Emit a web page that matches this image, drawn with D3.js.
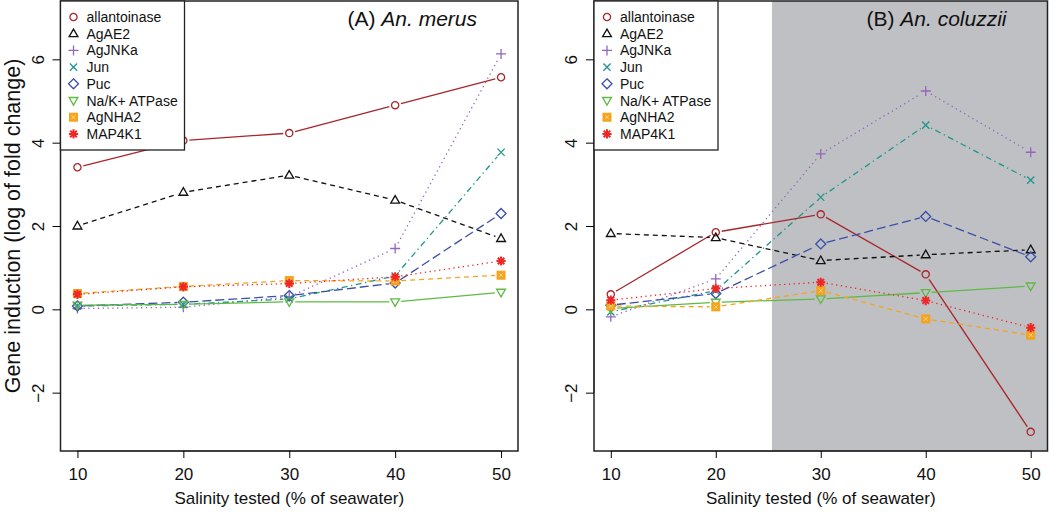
<!DOCTYPE html>
<html>
<head>
<meta charset="utf-8">
<script src="https://cdn.jsdelivr.net/npm/d3@7"></script>
<style>
 body { margin: 0; background: #fff; }
 text { font-family: "Liberation Sans", Arial, sans-serif; fill: #111; }
</style>
</head>
<body>
<svg id="graph"></svg>
<script>
// salinity levels (% of seawater)
const salinity = [10, 20, 30, 40, 50];
const genes = ["allantoinase", "AgAE2", "AgJNKa", "Jun", "Puc", "Na/K+ ATPase", "AgNHA2", "MAP4K1"];
const yTicks = [-2, 0, 2, 4, 6];

// (A) An. merus, one row per gene in the order above
const merus = [
 [3.41, 4.05, 4.23, 4.90, 5.57],
 [2.00, 2.81, 3.22, 2.62, 1.70],
 [0.02, 0.05, 0.30, 1.46, 6.13],
 [0.08, 0.12, 0.25, 0.80, 3.77],
 [0.08, 0.17, 0.33, 0.63, 2.30],
 [0.10, 0.12, 0.18, 0.18, 0.41],
 [0.38, 0.55, 0.69, 0.68, 0.82],
 [0.36, 0.54, 0.62, 0.78, 1.16]
];
// (B) An. coluzzii
const coluzzii = [
 [0.36, 1.85, 2.28, 0.84, -2.94],
 [1.82, 1.72, 1.17, 1.31, 1.43],
 [-0.18, 0.73, 3.73, 5.24, 3.77],
 [-0.06, 0.45, 2.69, 4.42, 3.10],
 [0.10, 0.38, 1.57, 2.23, 1.26],
 [0.02, 0.17, 0.25, 0.40, 0.56],
 [0.08, 0.06, 0.45, -0.23, -0.62],
 [0.22, 0.50, 0.65, 0.21, -0.44]
];
// shaded salinity band in panel B
const shadeFrom = 25.35;

const colors = ["#a8262b", "#111111", "#9464c0", "#1f968c", "#3a4eaa", "#5fba45", "#f5a31c", "#f02626"];
const dashes = [null, "5,4", "1.3,3.5", "1.3,3.5,6,3.5", "9,4", null, "5,4", "1.3,3.5"];
const shapes = ["circle", "triUp", "plus", "cross", "diamond", "triDown", "squarePlus", "asterisk"];

let width = 1050;
let height = 518;
let plotTop = 1, plotBottom = 451;
let fontFamily = "Liberation Sans, Arial, sans-serif";

let svg = d3.select("#graph")
 .attr("width", width)
 .attr("height", height);

function marker(g, shape, x, y, color) {
 let m = g.append("g").attr("transform", `translate(${x},${y})`)
 .attr("fill", "none").attr("stroke", color).attr("stroke-width", 1.3);
 if (shape == "circle") {
 m.append("circle").attr("r", 3.6);
 } else if (shape == "triUp") {
 m.append("path").attr("d", "M0,-4.6L4.4,3L-4.4,3Z");
 } else if (shape == "triDown") {
 m.append("path").attr("d", "M0,4.6L4.4,-3L-4.4,-3Z");
 } else if (shape == "plus") {
 m.append("path").attr("d", "M-5,0H5M0,-5V5");
 } else if (shape == "cross") {
 m.append("path").attr("d", "M-3.6,-3.6L3.6,3.6M-3.6,3.6L3.6,-3.6");
 } else if (shape == "diamond") {
 m.append("path").attr("d", "M0,-5L5,0L0,5L-5,0Z");
 } else if (shape == "squarePlus") {
 m.append("rect").attr("x", -4).attr("y", -4).attr("width", 8).attr("height", 8)
 .attr("fill", color).attr("stroke-width", 1);
 m.append("path").attr("d", "M-2,-2L2,2M-2,2L2,-2").attr("stroke", "#fbd58a").attr("stroke-width", 1);
 } else if (shape == "asterisk") {
 m.attr("stroke-width", 2);
 m.append("path").attr("d", "M-4.6,0H4.6M0,-4.6V4.6M-3.3,-3.3L3.3,3.3M-3.3,3.3L3.3,-3.3");
 }
}

function drawPanel(left, right, values, title, italic, shaded) {
 let scaleX = d3.scaleLinear().domain([8.4, 51.6]).range([left, right]);
 let scaleY = d3.scaleLinear().domain([-3.4, 7.4]).range([plotBottom, plotTop]);
 let g = svg.append("g");

 if (shaded) {
 g.append("rect")
 .attr("x", scaleX(shadeFrom)).attr("y", plotTop)
 .attr("width", right - scaleX(shadeFrom)).attr("height", plotBottom - plotTop)
 .attr("fill", "#bfc0c4");
 }

 // lines with gaps round the points, like type = "b"
 values.forEach(function(row, k) {
 let pts = row.map((v, i) => [scaleX(salinity[i]), scaleY(v)]);
 for (let i = 0; i < pts.length - 1; i++) {
 let [x1, y1] = pts[i], [x2, y2] = pts[i + 1];
 let len = Math.hypot(x2 - x1, y2 - y1);
 let gap = 6;
 if (len <= 2 * gap) continue;
 let ux = (x2 - x1) / len, uy = (y2 - y1) / len;
 g.append("line")
 .attr("x1", x1 + ux * gap).attr("y1", y1 + uy * gap)
 .attr("x2", x2 - ux * gap).attr("y2", y2 - uy * gap)
 .attr("stroke", colors[k]).attr("stroke-width", 1.3)
 .attr("stroke-dasharray", dashes[k]);
 }
 pts.forEach(p => marker(g, shapes[k], p[0], p[1], colors[k]));
 });

 // box
 g.append("rect")
 .attr("x", left).attr("y", plotTop).attr("width", right - left).attr("height", plotBottom - plotTop)
 .attr("fill", "none").attr("stroke", "#222").attr("stroke-width", 1.5);

 // axes
 let axisX = d3.axisBottom(scaleX).tickValues(salinity).tickSize(7).tickPadding(10);
 let gx = g.append("g").attr("transform", `translate(0,${plotBottom})`).call(axisX);
 gx.select(".domain").attr("d", `M${scaleX(10)},0H${scaleX(50)}`).attr("stroke", "#222");
 gx.selectAll("text").style("font-size", "17px").style("font-family", fontFamily);

 let axisY = d3.axisLeft(scaleY).tickValues(yTicks).tickSize(8)
 .tickFormat(d => d < 0 ? "\u2212" + Math.abs(d) : d);
 let gy = g.append("g").attr("transform", `translate(${left},0)`).call(axisY);
 gy.select(".domain").attr("d", `M0,${scaleY(-2)}V${scaleY(6)}`).attr("stroke", "#222");
 gy.selectAll("text")
 .style("font-size", "17px").style("font-family", fontFamily)
 .attr("text-anchor", "middle").attr("x", 0).attr("dy", 0)
 .attr("transform", "translate(-17,0) rotate(-90)");

 g.append("text")
 .attr("x", (left + right) / 2).attr("y", 504)
 .attr("text-anchor", "middle").style("font-size", "17px")
 .text("Salinity tested (% of seawater)");

 // title
 let t = g.append("text").attr("x", right - 41).attr("y", 26)
 .attr("text-anchor", "end").style("font-size", "21px");
 t.append("tspan").text(title + " ");
 t.append("tspan").style("font-style", "italic").text(italic);

 // legend
 let lg = g.append("g");
 lg.append("rect").attr("x", left).attr("y", plotTop).attr("width", 124).attr("height", 149)
 .attr("fill", "#fff").attr("stroke", "#222").attr("stroke-width", 1.3);
 genes.forEach(function(name, k) {
 let y = 17 + k * 16.7;
 marker(lg, shapes[k], left + 13, y, colors[k]);
 lg.append("text").attr("x", left + 26).attr("y", y + 5)
 .style("font-size", "14px").text(name);
 });
}

drawPanel(60.5, 518, merus, "(A)", "An. merus", false);
drawPanel(594, 1047.5, coluzzii, "(B)", "An. coluzzii", true);

svg.append("text")
 .attr("transform", `translate(20,${(plotTop + plotBottom) / 2}) rotate(-90)`)
 .attr("text-anchor", "middle").style("font-size", "21.5px")
 .text("Gene induction (log of fold change)");
</script>
</body>
</html>
